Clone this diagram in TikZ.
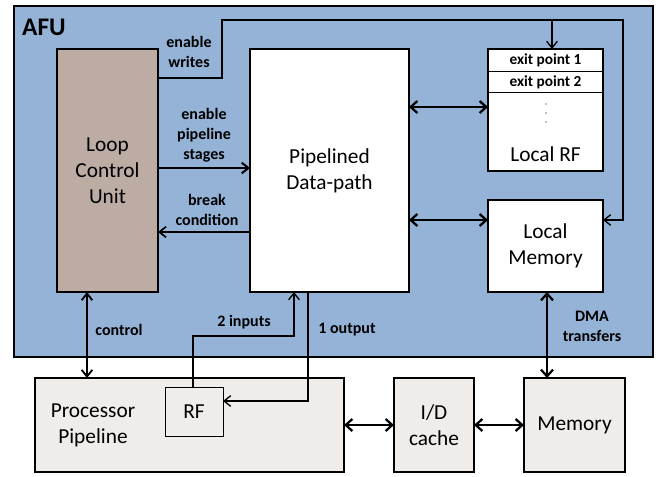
\documentclass[tikz,border=0pt]{standalone}
\usepackage{fontspec}
\setmainfont{Carlito}
\definecolor{afublue}{RGB}{149, 179, 215}
\definecolor{loopbrown}{RGB}{188, 172, 164}
\definecolor{hostgray}{RGB}{239, 236, 233}
\usetikzlibrary{arrows.meta, positioning, calc}

\begin{document}
\begin{tikzpicture}[x=0.75pt, y=-0.75pt,
  unit/.style={draw=black, line width=1pt, inner sep=0pt, outer sep=0pt, align=center,
    font=\fontsize{16}{19.5}\selectfont},
  tag/.style={align=center, font=\fontsize{12}{15}\selectfont\bfseries},
  sig/.style={line width=1pt, -{Straight Barb[length=5pt, width=8pt]}},
  bus/.style={line width=1.7pt, {Straight Barb[length=5pt, width=9pt]}-{Straight Barb[length=5pt, width=9pt]}}]
  \useasboundingbox (0,0) rectangle (661,476);

  % accelerator
  \node[unit, fill=afublue, line width=1.3pt, minimum width=479.25pt, minimum height=263.25pt] (afu) at (333.5,181.5) {};
  \node[font=\fontsize{19}{22}\selectfont\bfseries] (afutitle) at (44,27) {AFU};

  \node[unit, fill=loopbrown, minimum width=75.75pt, minimum height=182.25pt] (lcu) at (107.5,170.5) {Loop\\Control\\Unit};
  \node[unit, fill=white, minimum width=119.25pt, minimum height=182.25pt] (dp) at (329.5,170.5) {Pipelined\\Data-path};
  \node[unit, fill=white, minimum width=86.25pt, minimum height=91.5pt] (lrf) at (545.5,110) {};
  \draw[line width=0.6pt] (lrf.west |- 0,71) -- (lrf.east |- 0,71);
  \draw[line width=0.6pt] (lrf.west |- 0,92) -- (lrf.east |- 0,92);
  \node[tag, font=\fontsize{11.5}{12}\selectfont\bfseries] (exit1) at (545.5,60.5) {exit point 1};
  \node[tag, font=\fontsize{11.5}{12}\selectfont\bfseries] (exit2) at (545.5,82) {exit point 2};
  \foreach \y in {104,113,122}
    \fill[gray] (546,\y) circle (0.6pt);
  \node[font=\fontsize{16}{19.5}\selectfont] (lrftext) at (545.5,154) {Local RF};
  \node[unit, fill=white, minimum width=86.25pt, minimum height=69pt] (lmem) at (545.5,246) {Local\\Memory};

  % host side
  \node[unit, fill=hostgray, minimum width=231.75pt, minimum height=70.5pt] (proc) at (189.5,425) {};
  \node[font=\fontsize{16}{19.5}\selectfont, align=center] (proctext) at (93,425) {Processor\\Pipeline};
  \node[unit, fill=hostgray, line width=0.7pt, minimum width=43.5pt, minimum height=36.75pt] (rf) at (194,411.5) {RF};
  \node[unit, fill=hostgray, minimum width=60pt, minimum height=70.5pt] (cache) at (434,425) {I/D\\cache};
  \node[unit, fill=hostgray, minimum width=75.75pt, minimum height=70.5pt] (mem) at (574.5,425) {Memory};

  % control signals
  \coordinate (wrtap) at (552,20);
  \draw[sig] (lcu.east |- 0,78) -| (222,20) -| (623,220) -- (lmem.east |- 0,220);
  \draw[sig] (wrtap) -- (lrf.north -| wrtap);
  \node[tag] (wrlabel) at (189,52) {enable\\writes};

  \draw[sig, line width=1.5pt] (lcu.east |- 0,168) -- (dp.west |- 0,168);
  \node[tag] (stlabel) at (204,135) {enable\\pipeline\\stages};
  \draw[sig, line width=1.3pt] (dp.west |- 0,232) -- (lcu.east |- 0,232);
  \node[tag] (brlabel) at (207,210) {break\\condition};

  \draw[bus] (dp.east |- 0,107) -- (lrf.west |- 0,107);
  \draw[bus] (dp.east |- 0,220) -- (lmem.west |- 0,220);

  \draw[sig, {Straight Barb[length=5pt, width=8pt]}-{Straight Barb[length=5pt, width=8pt]}, line width=1.4pt] (lcu.south -| 87,0) -- (proc.north -| 87,0);
  \node[tag] (ctlabel) at (119,330) {control};

  \draw[sig] (rf.north -| 193,0) |- (294,336) -- (dp.south -| 294,0);
  \node[tag] (inlabel) at (244,322) {2 inputs};
  \draw[sig] (dp.south -| 308,0) |- (rf.east |- 0,401);
  \node[tag] (outlabel) at (347,330) {1 output};

  \draw[bus] (proc.east) -- (cache.west);
  \draw[bus] (cache.east) -- (mem.west);
  \draw[bus] (lmem.south -| 547,0) -- (mem.north -| 547,0);
  \node[tag] (dmalabel) at (592,326) {DMA\\transfers};
\end{tikzpicture}
\end{document}
